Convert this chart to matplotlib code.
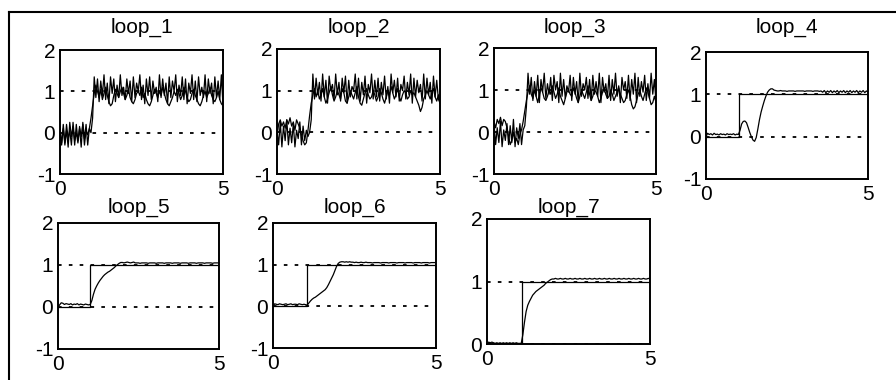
import numpy as np
import matplotlib
matplotlib.use("Agg")
import matplotlib.pyplot as plt
from matplotlib.lines import Line2D

plt.rcParams["font.family"] = ["Liberation Sans", "DejaVu Sans"]
plt.rcParams["axes.unicode_minus"] = False

# ---- Data -------------------------------------------------------------------
T = np.arange(101) * 0.05          # sample grid, 0 .. 5 s

loop1_a = [0.15, -0.30, 0.20, -0.25, 0.05, -0.35, 0.25, -0.10, 0.15, -0.30,
           0.20, -0.20, 0.10, -0.35, 0.25, -0.15, 0.20, -0.30, 0.10, 0.00,
           0.35, 1.35,
           0.85, 1.30, 0.75, 1.25, 0.90, 1.40, 0.80, 1.20, 0.70, 1.35,
           0.95, 1.30, 0.75, 1.15, 0.85, 1.40, 0.90, 1.10, 0.80, 1.30,
           0.95, 1.25, 0.75, 1.35, 0.85, 1.20, 1.00, 1.40, 0.80, 1.15,
           0.70, 1.30, 0.90, 1.35, 0.80, 1.25, 0.95, 1.10, 0.75, 1.40,
           0.85, 1.30, 0.90, 1.20, 0.70, 1.35, 0.85, 1.25, 1.00, 1.40,
           0.75, 1.15, 0.90, 1.35, 0.80, 1.30, 0.70, 1.20, 0.95, 1.40,
           0.80, 1.25, 0.75, 1.35, 0.90, 1.10, 0.85, 1.40, 0.75, 1.30,
           0.95, 1.20, 0.70, 1.35, 0.85, 1.25, 0.80, 1.40, 0.65]
loop1_b = [-0.05, -0.25, 0.10, -0.30, 0.20, -0.15, 0.05, -0.30, 0.25, -0.20,
           0.00, -0.25, 0.15, -0.10, 0.20, -0.30, 0.05, -0.05,
           0.10, 0.35, 0.65, 0.95, 1.15,
           1.00, 0.85, 1.05, 0.80, 0.95, 1.10, 0.90, 0.75, 0.65, 0.70,
           0.90, 1.05, 0.95, 0.85, 1.00, 1.10, 0.95, 0.80, 0.90, 1.05,
           0.85, 0.75, 0.70, 0.80, 0.95, 1.00, 0.90, 1.10, 0.85, 0.95,
           0.80, 0.70, 0.65, 0.75, 0.90, 1.05, 0.95, 0.85, 1.00, 0.90,
           1.10, 0.95, 0.80, 0.70, 0.65, 0.75, 0.85, 1.00, 0.90, 1.05,
           0.95, 0.80, 0.90, 1.10, 1.00, 0.85, 0.75, 0.80, 0.95, 1.05,
           0.90, 0.80, 0.70, 0.65, 0.75, 0.90, 1.00, 0.85, 0.95, 1.10,
           0.90, 0.80, 0.75, 0.85, 1.00, 0.80, 0.70, 0.65]

loop2_a = [0.05, -0.30, 0.25, -0.35, 0.15, -0.20, 0.30, -0.30, 0.10, -0.25,
           0.20, -0.35, 0.05, -0.15, 0.25, -0.30, 0.15, -0.20, 0.05, -0.10,
           0.00, 0.30, 1.40,
           0.80, 1.30, 0.90, 1.20, 0.75, 1.40, 0.85, 1.25, 0.70, 1.35,
           1.00, 1.15, 0.80, 1.40, 0.90, 1.20, 0.75, 1.30, 0.95, 1.35,
           0.70, 1.25, 0.85, 1.10, 1.00, 1.40, 0.80, 1.30, 0.75, 1.20,
           0.90, 1.35, 0.70, 1.15, 0.95, 1.40, 0.80, 1.25, 0.85, 1.30,
           0.75, 1.20, 0.90, 1.35, 0.80, 1.10, 0.70, 1.40, 0.95, 1.25,
           0.85, 1.30, 0.75, 1.15, 1.00, 1.35, 0.80, 1.20, 0.90, 1.40,
           0.70, 1.30, 0.85, 1.25, 0.95, 1.15, 0.75, 1.40, 0.80, 1.30,
           0.90, 1.20, 0.70, 1.35, 0.85, 1.25, 0.80, 0.70]
loop2_b = [-0.10, 0.20, 0.30, 0.15, 0.25, 0.10, 0.30, 0.20, 0.35, 0.15,
           0.25, 0.05, 0.30, 0.20, 0.10, -0.05, -0.20, -0.30,
           -0.25, 0.05, 0.40, 0.70, 0.90, 1.05,
           0.85, 1.00, 0.80, 0.90, 1.05, 0.85, 0.70, 0.80, 0.95, 1.10,
           0.90, 0.75, 0.85, 1.00, 0.90, 0.80, 1.05, 0.95, 0.75, 0.70,
           0.85, 1.00, 0.90, 0.80, 0.95, 1.10, 0.85, 0.70, 0.65, 0.80,
           0.95, 1.05, 0.90, 0.80, 0.85, 1.00, 0.90, 0.75, 0.85, 1.05,
           0.95, 0.80, 0.70, 0.85, 1.00, 0.90, 1.10, 0.95, 0.80, 0.90,
           1.05, 0.85, 0.75, 0.90, 1.00, 0.95, 0.80, 0.85, 1.00, 0.90,
           0.95, 0.85, 0.75, 0.65, 0.50, 0.60, 0.80, 0.90, 1.00, 0.90,
           0.80, 0.95, 1.05, 0.85, 0.75, 0.90, 0.70]

loop3_a = [0.20, -0.30, 0.10, -0.25, 0.25, -0.35, 0.05, -0.20, 0.20, -0.30,
           0.15, -0.25, 0.30, -0.35, 0.10, -0.15, 0.20, -0.30, 0.05, 0.15,
           0.60, 1.40,
           0.90, 1.30, 0.75, 1.20, 0.85, 1.35, 0.70, 1.25, 0.95, 1.40,
           0.80, 1.15, 0.90, 1.30, 0.75, 1.35, 1.00, 1.20, 0.70, 1.40,
           0.85, 1.25, 0.80, 1.10, 0.95, 1.35, 0.75, 1.30, 0.90, 1.20,
           0.70, 1.40, 0.85, 1.15, 1.00, 1.30, 0.80, 1.25, 0.75, 1.35,
           0.90, 1.20, 0.85, 1.40, 0.70, 1.30, 0.95, 1.15, 0.80, 1.35,
           0.75, 1.25, 0.90, 1.40, 0.85, 1.10, 0.70, 1.30, 1.00, 1.20,
           0.80, 1.35, 0.75, 1.25, 0.90, 1.40, 0.70, 1.30, 0.85, 1.20,
           0.95, 1.35, 0.75, 1.15, 0.80, 1.40, 0.90, 1.25, 0.70]
loop3_b = [0.25, 0.10, 0.30, 0.20, 0.35, 0.15, 0.30, 0.25, 0.10, -0.10,
           -0.30, -0.20, 0.00, -0.25, -0.15, -0.30, -0.05, 0.05,
           0.25, 0.50, 0.75, 0.95, 1.10,
           0.90, 0.80, 1.00, 0.85, 0.70, 0.90, 1.05, 0.95, 0.80, 0.75,
           0.85, 1.00, 0.90, 1.10, 0.95, 0.80, 0.90, 1.05, 0.85, 0.75,
           0.65, 0.80, 0.95, 1.00, 0.90, 0.85, 1.05, 0.95, 0.80, 0.70,
           0.85, 1.00, 0.90, 0.80, 0.95, 1.10, 0.90, 0.75, 0.85, 1.00,
           0.95, 0.85, 0.70, 0.80, 0.95, 1.05, 0.90, 0.80, 0.85, 1.00,
           0.90, 0.75, 0.85, 0.95, 1.05, 0.90, 0.80, 0.70, 0.75, 0.90,
           1.00, 0.85, 0.65, 0.55, 0.60, 0.75, 0.90, 1.00, 0.85, 0.75,
           0.90, 1.05, 0.95, 0.80, 0.65, 0.70, 0.85, 0.70]

loop4_y = [0.00, 0.08, 0.05, 0.07, 0.04, 0.08, 0.05, 0.06, 0.04, 0.07,
           0.05, 0.06, 0.04, 0.07, 0.05, 0.06, 0.05, 0.07, 0.04, 0.06, 0.05,
           0.15, 0.30, 0.36, 0.37, 0.33, 0.22, 0.10, 0.00, -0.08, -0.11,
           -0.02, 0.18, 0.40, 0.58, 0.72, 0.85, 0.96, 1.05, 1.10, 1.13,
           1.13, 1.10,
           1.09, 1.08, 1.08, 1.09, 1.08, 1.08, 1.08, 1.07, 1.08, 1.08,
           1.08, 1.08, 1.07, 1.08, 1.08, 1.08, 1.08, 1.08, 1.07, 1.08,
           1.08, 1.08, 1.08, 1.07, 1.08, 1.08, 1.08, 1.07, 1.08,
           1.05, 1.09, 1.04, 1.08, 1.05, 1.09, 1.04, 1.08, 1.05, 1.09,
           1.04, 1.08, 1.05, 1.09, 1.04, 1.08, 1.05, 1.09, 1.04, 1.08,
           1.05, 1.09, 1.04, 1.08, 1.05, 1.09, 1.04, 1.08, 1.05]
loop5_y = [0.00, 0.05, 0.10, 0.09, 0.06, 0.08, 0.07, 0.06, 0.08, 0.05,
           0.07, 0.06, 0.08, 0.05, 0.07, 0.06, 0.05, 0.07, 0.06, 0.05, 0.06,
           0.15, 0.30, 0.42, 0.50, 0.57, 0.63, 0.68, 0.73, 0.77, 0.80,
           0.83, 0.85, 0.88, 0.91, 0.94, 0.98, 1.01, 1.04, 1.06, 1.06,
           1.05, 1.06, 1.07, 1.06, 1.05, 1.06, 1.07, 1.05,
           1.05, 1.05, 1.04, 1.05, 1.05, 1.05, 1.05, 1.04, 1.05, 1.05,
           1.05, 1.05, 1.04, 1.05, 1.05, 1.05, 1.05, 1.04, 1.05, 1.05,
           1.05, 1.05, 1.04, 1.05, 1.05, 1.05, 1.05, 1.04, 1.05, 1.05,
           1.05, 1.05, 1.04, 1.05, 1.05, 1.05, 1.05, 1.04, 1.05, 1.05,
           1.05, 1.05, 1.04, 1.05, 1.05, 1.05, 1.05, 1.04, 1.05, 1.05,
           1.05, 1.05]
loop6_y = [0.00, 0.06, 0.05, 0.04, 0.06, 0.05, 0.04, 0.05, 0.06, 0.04,
           0.05, 0.06, 0.04, 0.05, 0.05, 0.04, 0.06, 0.05, 0.04, 0.05,
           0.04, 0.03,
           0.08, 0.13, 0.17, 0.20, 0.22, 0.25, 0.28, 0.31, 0.34, 0.37,
           0.40, 0.45, 0.52, 0.60, 0.68, 0.76, 0.86, 0.96, 1.03, 1.06,
           1.07, 1.07, 1.06, 1.07, 1.06, 1.07, 1.06,
           1.06, 1.05, 1.06, 1.05, 1.05, 1.06, 1.05, 1.05, 1.06, 1.05,
           1.05, 1.05, 1.04, 1.05, 1.05, 1.05, 1.05, 1.04, 1.05, 1.05,
           1.05, 1.05, 1.04, 1.05, 1.05, 1.05, 1.05, 1.04, 1.05, 1.05,
           1.05, 1.05, 1.04, 1.05, 1.05, 1.05, 1.05, 1.04, 1.05, 1.05,
           1.05, 1.05, 1.04, 1.05, 1.05, 1.05, 1.05, 1.04, 1.05, 1.05,
           1.05, 1.05]
loop7_y = [0.00, 0.03, 0.02, 0.03, 0.02, 0.01, 0.02, 0.01, 0.02, 0.01,
           0.02, 0.01, 0.02, 0.01, 0.02, 0.01, 0.02, 0.01, 0.02, 0.01,
           0.01, 0.01,
           0.15, 0.35, 0.52, 0.62, 0.68, 0.73, 0.78, 0.81, 0.84, 0.86,
           0.88, 0.90, 0.92, 0.94, 0.97, 0.99, 1.01, 1.03, 1.04,
           1.04, 1.05, 1.04, 1.04, 1.05, 1.04, 1.04, 1.05, 1.04, 1.04,
           1.05, 1.04, 1.04, 1.05, 1.04, 1.04, 1.05, 1.04, 1.04, 1.05,
           1.04, 1.04, 1.05, 1.04, 1.04, 1.05, 1.04, 1.04, 1.05, 1.04,
           1.04, 1.05, 1.04, 1.04, 1.05, 1.04, 1.04, 1.05, 1.04, 1.04,
           1.05, 1.04, 1.04, 1.05, 1.04, 1.04, 1.05, 1.04, 1.04, 1.05,
           1.04, 1.04, 1.05, 1.04, 1.04, 1.05, 1.04, 1.04, 1.05, 1.04]

# setpoint step times for the step-response loops
STEP_T = {"loop_4": 1.02, "loop_5": 1.0, "loop_6": 1.05, "loop_7": 1.06}

TITLES = ["loop_1", "loop_2", "loop_3", "loop_4", "loop_5", "loop_6", "loop_7"]
SERIES = [(loop1_a, loop1_b), (loop2_a, loop2_b), (loop3_a, loop3_b),
          (loop4_y,), (loop5_y,), (loop6_y,), (loop7_y,)]
YLIMS = [(-1, 2)] * 6 + [(0, 2)]

# axes boxes in pixels: left, top, right, bottom ; title baseline in pixels
BOXES = [(60, 50, 223, 174), (277, 49, 440, 174), (494, 48, 656, 174),
         (706, 52, 868, 179), (58, 223, 219, 349), (273, 223, 436, 348),
         (487, 219, 650, 344)]
TITLE_BASE = [33, 33, 33, 33, 213, 213, 213]

W, H = 896, 380
fig = plt.figure(figsize=(W / 100, H / 100), dpi=100)

for name, series, ylim, box, tb in zip(TITLES, SERIES, YLIMS, BOXES, TITLE_BASE):
    l, t, r, b = box
    ax = fig.add_axes([l / W, 1 - b / H, (r - l) / W, (b - t) / H])
    for y in (0, 1):
        ax.axhline(y, color="k", ls=(0, (2, 4)), lw=1.3, zorder=1)
    if name in STEP_T:
        ts = STEP_T[name]
        ax.plot([0, ts, ts, 5], [0, 0, 1, 1], color="k", lw=0.9, zorder=3)
    for s in series:
        ax.plot(T, s, color="k", lw=0.9, zorder=2)
    ax.set_xlim(0, 5)
    ax.set_ylim(*ylim)
    ax.set_xticks([0, 5])
    ax.set_yticks(range(ylim[0], ylim[1] + 1))
    ax.tick_params(length=0, labelsize=15)
    ax.tick_params(axis="x", pad=4)
    ax.tick_params(axis="y", pad=3.5)
    for sp in ax.spines.values():
        sp.set_linewidth(1.4)
    ax.set_title(name, fontsize=15, pad=(t - tb) * 0.72)

# outer frame (left and top edges only)
fig.add_artist(Line2D([9 / W, 9 / W], [0, 1 - 12 / H], color="k", lw=1.5))
fig.add_artist(Line2D([9 / W, 1], [1 - 12 / H, 1 - 12 / H], color="k", lw=1.5))

fig.savefig("out.png", dpi=100)
